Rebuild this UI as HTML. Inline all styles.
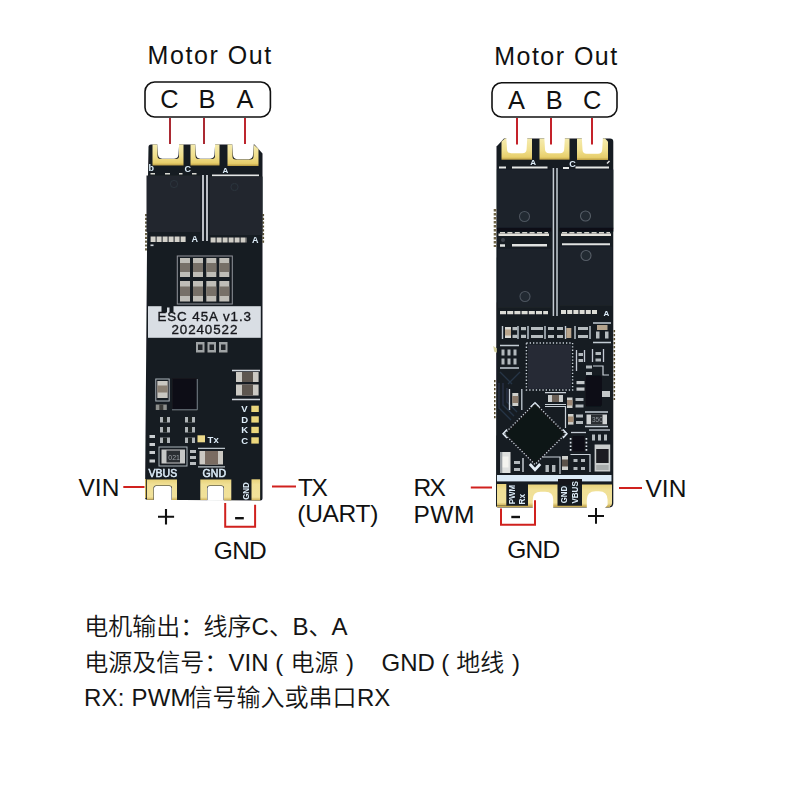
<!DOCTYPE html>
<html lang="zh">
<head>
<meta charset="utf-8">
<title>ESC 45A wiring</title>
<style>
html,body{margin:0;padding:0;background:#fff;}
body{width:800px;height:800px;overflow:hidden;position:relative;font-family:"Liberation Sans","Noto Sans CJK SC",sans-serif;}
svg{position:absolute;left:0;top:0;display:block}
text{font-family:"Liberation Sans","Noto Sans CJK SC",sans-serif;fill:#111;}
.lab{font-size:24.5px;}
.cn{font-size:24px;font-weight:350;fill:#151515;}
.red{stroke:#d0211e;stroke-width:2;fill:none}
.redv{stroke:#b3232b;stroke-width:2;fill:none}
.silk{fill:#dcecf8;font-weight:bold;}
</style>
</head>
<body>
<svg width="800" height="800" viewBox="0 0 800 800">
<defs>
<linearGradient id="gold" x1="0" y1="0" x2="0" y2="1">
<stop offset="0" stop-color="#f5ebae"/><stop offset="0.55" stop-color="#f0df8c"/><stop offset="0.88" stop-color="#e7ce6b"/><stop offset="1" stop-color="#b99b42"/>
</linearGradient>
<linearGradient id="goldb" x1="0" y1="0" x2="0" y2="1">
<stop offset="0" stop-color="#e8d27a"/><stop offset="0.25" stop-color="#f0e096"/><stop offset="0.85" stop-color="#f1e19a"/><stop offset="1" stop-color="#cdb057"/>
</linearGradient>
<filter id="soft" x="-5%" y="-5%" width="110%" height="110%"><feGaussianBlur stdDeviation="0.55"/></filter>
</defs>

<!-- ===== top labels ===== -->
<g id="toplabels">
<text x="147.6" y="63.9" class="lab" textLength="123.6" lengthAdjust="spacing" style="font-size:25px">Motor Out</text>
<text x="494.2" y="64.8" class="lab" textLength="123" lengthAdjust="spacing" style="font-size:25px">Motor Out</text>
<rect x="145" y="82" width="125.4" height="35" rx="9.6" ry="9.6" fill="#fff" stroke="#111" stroke-width="1.6"/>
<rect x="492" y="82.8" width="125" height="34.2" rx="9.6" ry="9.6" fill="#fff" stroke="#111" stroke-width="1.6"/>
<text x="160.3" y="108.2" class="lab" style="font-size:25.4px">C</text>
<text x="198.4" y="108.2" class="lab" style="font-size:25.4px">B</text>
<text x="236.5" y="108.2" class="lab" style="font-size:25.4px">A</text>
<text x="508" y="109.2" class="lab" style="font-size:25.4px">A</text>
<text x="545.8" y="109.2" class="lab" style="font-size:25.4px">B</text>
<text x="583" y="109.2" class="lab" style="font-size:25.4px">C</text>
</g>

<!-- BOARD1 START -->
<g id="board1" filter="url(#soft)">
<!-- pcb body -->
<path d="M151 144.5H254.5L262.5 153.5V498.5Q262.5 500.5 260.5 500.5L147 499.8Q145 499.8 145 497.8L147.3 215L148.5 147Q148.5 144.5 151 144.5Z" fill="#191d23"/>
<!-- castellation bumps left/right -->
<path d="M146 214v38M263.2 214v30" stroke="#5a5236" stroke-width="1.8" stroke-dasharray="2.2 1.6"/>
<!-- top gold pads -->
<path d="M152.5 144.5H157.5V156Q157.5 159 160.5 159H176Q179 159 179 156V144.5H183.5V165.5H152.5Z" fill="url(#gold)"/>
<path d="M190.5 144.5H195.5V156Q195.5 159 198.5 159H212Q215 159 215 156V144.5H219.5V165.5H190.5Z" fill="url(#gold)"/>
<path d="M227.5 144.5H232.5V156.5Q232.5 159.5 235.5 159.5H250.5Q253.5 159.5 253.5 156.5V144.5L258.5 149V166H227.5Z" fill="url(#gold)"/>
<!-- silk letters -->
<text x="148.6" y="171.3" class="silk" style="font-size:9px">b</text>
<text x="184.6" y="171.8" class="silk" style="font-size:9px">C</text>
<text x="222.6" y="172.6" class="silk" style="font-size:8px">A</text>
<!-- solder dashes above fets -->
<path d="M150.5 173.8h4.5M165 173.8h5M179 173.8h3.5M192 173.8h4.5" stroke="#d9d9d2" stroke-width="1.6"/>
<path d="M212 175.4H259" stroke="#e4e6e6" stroke-width="1.8"/>
<!-- fets -->
<rect x="146.5" y="175.5" width="54" height="56.5" fill="#20272f"/>
<rect x="209.5" y="176.5" width="53" height="58.5" fill="#20272f"/>
<circle cx="174" cy="184" r="3.6" fill="none" stroke="#2d343c" stroke-width="1"/>
<circle cx="234.5" cy="187" r="3.6" fill="none" stroke="#2d343c" stroke-width="1"/>
<!-- center white lines -->
<path d="M203 175V241M207 175V241" stroke="#d5dade" stroke-width="1.7"/>
<!-- solder under fets -->
<path d="M150.6 239.2H186" stroke="#d4d2cb" stroke-width="5.5" stroke-dasharray="5 1"/>
<path d="M210.6 240H247" stroke="#cfcdc6" stroke-width="5" stroke-dasharray="5 1"/>
<text x="191.5" y="242.3" class="silk" style="font-size:9px">A</text>
<text x="252" y="243" class="silk" style="font-size:9px">A</text>
<rect x="150.5" y="244.5" width="3" height="1.6" fill="#cfd6dc"/>
<!-- capacitor array -->
<rect x="177.3" y="256" width="55" height="48" fill="none" stroke="#8f959b" stroke-width="1"/>
<g id="caps8">
<g fill="#bfbdb7">
<rect x="180" y="258" width="10" height="19"/><rect x="193" y="258" width="10" height="19"/><rect x="206.3" y="258" width="10" height="19"/><rect x="219.3" y="258" width="10" height="19"/>
<rect x="180" y="281" width="10" height="20.5"/><rect x="193" y="281" width="10" height="20.5"/><rect x="206.3" y="281" width="10" height="20.5"/><rect x="219.3" y="281" width="10" height="20.5"/>
</g>
<g fill="#777067">
<rect x="180" y="263" width="10" height="9"/><rect x="193" y="263" width="10" height="9"/><rect x="206.3" y="263" width="10" height="9"/><rect x="219.3" y="263" width="10" height="9"/>
<rect x="180" y="286.5" width="10" height="9.5"/><rect x="193" y="286.5" width="10" height="9.5"/><rect x="206.3" y="286.5" width="10" height="9.5"/><rect x="219.3" y="286.5" width="10" height="9.5"/>
</g>
</g>
<!-- sticker -->
<rect x="148" y="306.2" width="112.8" height="31.6" fill="#d9dee4"/>
<path d="M161.5 303v9.5h5.5v-5h2.5v5h4v-8z" fill="#191d23"/>
<text x="157.4" y="320.6" textLength="93.6" lengthAdjust="spacing" style="font-size:13.4px;fill:#15171b;stroke:#15171b;stroke-width:0.35">ESC 45A v1.3</text>
<text x="171.4" y="334.4" textLength="66" lengthAdjust="spacing" style="font-size:13.4px;fill:#15171b;stroke:#15171b;stroke-width:0.35">20240522</text>
<!-- small resistors under sticker -->
<g fill="#9fa3a5"><rect x="196" y="342" width="8.5" height="10.5"/><rect x="207.5" y="342" width="8.5" height="10.5"/><rect x="219" y="342" width="8.5" height="10.5"/></g>
<g fill="#23272c"><rect x="198" y="344.5" width="4.5" height="5.5"/><rect x="209.5" y="344.5" width="4.5" height="5.5"/><rect x="221" y="344.5" width="4.5" height="5.5"/></g>
<!-- right caps -->
<path d="M232 370.5H260M232 399.5H260" stroke="#cfd6dc" stroke-width="1.4"/>
<g fill="#cbc9c3"><rect x="236" y="372" width="22.6" height="10"/><rect x="236" y="384.5" width="22.6" height="11"/></g>
<g fill="#5d564f"><rect x="242" y="372" width="11" height="10"/><rect x="242" y="384.5" width="11" height="11"/></g>
<!-- IC -->
<rect x="172.5" y="378.5" width="24" height="30.5" fill="#0e1114"/>
<path d="M197.3 379V409.8H172" stroke="#7f8a93" stroke-width="0.9" fill="none"/>
<!-- left cap -->
<rect x="155.8" y="379" width="13.4" height="22" fill="none" stroke="#aab3ba" stroke-width="1"/>
<rect x="157.3" y="381" width="10.4" height="17" fill="#c9c7c1"/><rect x="157.3" y="385.5" width="10.4" height="7" fill="#8a7f72"/>
<rect x="155.8" y="404.5" width="11" height="5.5" fill="#8d8f8c"/><rect x="159.3" y="404.5" width="4" height="5.5" fill="#3a3a38"/>
<!-- small resistors -->
<g fill="#aeb3b6">
<rect x="160" y="417" width="10" height="5.5"/><rect x="160" y="427" width="10" height="5.5"/><rect x="160" y="437.5" width="10" height="5.5"/>
<rect x="185" y="417" width="10" height="5.5"/><rect x="185" y="427" width="10" height="5.5"/><rect x="185" y="437.5" width="10" height="5.5"/>
</g>
<g fill="#1c2024">
<rect x="163" y="417" width="4" height="5.5"/><rect x="163" y="427" width="4" height="5.5"/><rect x="163" y="437.5" width="4" height="5.5"/>
<rect x="188" y="417" width="4" height="5.5"/><rect x="188" y="427" width="4" height="5.5"/><rect x="188" y="437.5" width="4" height="5.5"/>
</g>
<g fill="#c9cdd0"><rect x="149.5" y="435" width="5.5" height="3"/><rect x="149.5" y="443" width="5.5" height="3"/><rect x="149.5" y="451" width="5.5" height="3"/><rect x="149.5" y="459.5" width="5.5" height="3"/></g>
<!-- V D K C pads -->
<g style="font-size:9.5px"><text class="silk" x="241.2" y="412.2">V</text><text class="silk" x="241.2" y="422.8">D</text><text class="silk" x="241.2" y="433.3">K</text><text class="silk" x="241.2" y="443.8">C</text></g>
<g fill="#ebd67c"><rect x="251.3" y="405.7" width="7.5" height="6.3"/><rect x="251.3" y="416.3" width="7.5" height="6.3"/><rect x="251.3" y="426.8" width="7.5" height="6.3"/><rect x="251.3" y="437.3" width="7.5" height="6.3"/></g>
<!-- Tx pad -->
<rect x="197.5" y="435.3" width="7.5" height="7" fill="#ecd98a"/>
<text x="207.6" y="443" class="silk" style="font-size:9.5px">Tx</text>
<!-- resistor 021 -->
<rect x="159" y="447" width="28" height="19" fill="none" stroke="#aab3ba" stroke-width="1"/>
<rect x="161.5" y="449.5" width="23.5" height="14" fill="#c5c7c6"/><rect x="166.5" y="450.5" width="13.5" height="12" fill="#2a2d31"/>
<text x="168.3" y="459.8" style="font-size:7px;fill:#9aa0a5">021</text>
<!-- cap near GND -->
<path d="M198 448.3H225M198 466.8H225" stroke="#b9c2c9" stroke-width="1.2"/>
<rect x="199.5" y="451" width="23.5" height="13.5" fill="#cbc8c2"/><rect x="205" y="451" width="13" height="13.5" fill="#7a6c62"/>
<g fill="#b9bdc0"><rect x="190" y="450" width="6" height="3"/><rect x="190" y="456" width="6" height="3"/><rect x="190" y="462" width="6" height="3"/></g>
<!-- silk VBUS / GND -->
<text x="148.6" y="477.3" class="silk" textLength="28.6" lengthAdjust="spacingAndGlyphs" style="font-size:10.5px;font-weight:normal;stroke:#dcecf8;stroke-width:0.5">VBUS</text>
<text x="202.6" y="477.3" class="silk" textLength="23.4" lengthAdjust="spacingAndGlyphs" style="font-size:10.5px;font-weight:normal;stroke:#dcecf8;stroke-width:0.5">GND</text>
<text transform="translate(248.6 499.8) rotate(-90)" class="silk" textLength="17.6" lengthAdjust="spacingAndGlyphs" style="font-size:9.6px">GND</text>
<!-- bottom pads -->
<path d="M147 479.5H177V499.9H172V488Q172 485.5 169.5 485.5H156Q153.5 485.5 153.5 488V499.8H147Z" fill="url(#goldb)"/>
<path d="M200.3 479.5H231.3V500.2H224V488Q224 485.5 221.5 485.5H209.5Q207 485.5 207 488V500.1H200.3Z" fill="url(#goldb)"/>
<rect x="251.5" y="479.3" width="8.6" height="21" fill="url(#goldb)"/>
<path d="M145.6 479V498" stroke="#cdb45c" stroke-width="1.2"/>
</g>
<!-- notch holes painted white (outside filter for crispness) -->
<g fill="#fff"><path d="M157.3 143.5L158 154.6Q158.2 158.7 162.2 158.7H174.3Q178.3 158.7 178.5 154.6L179.2 143.5Z"/><path d="M195.3 143.5L196 154.6Q196.2 158.7 200.2 158.7H210.3Q214.3 158.7 214.5 154.6L215.2 143.5Z"/><path d="M232.3 143.5L233 155.1Q233.2 159.2 237.2 159.2H248.8Q252.8 159.2 253 155.1L253.7 143.5Z"/></g>
<g fill="#fff"><path d="M153.9 500.6V488.4Q153.9 486 156.3 486H169.2Q171.6 486 171.6 488.4V500.6Z"/><path d="M207.4 500.8V488.4Q207.4 486 209.8 486H221.2Q223.6 486 223.6 488.4V500.8Z"/></g>
<!-- BOARD1 END -->
<!-- BOARD2 START -->
<g id="board2" filter="url(#soft)">
<!-- pcb body -->
<path d="M504 138.5H610Q613.3 138.5 613.3 141.8V503Q613.3 507.5 608.8 507.5H498Q496 507.5 496 505.5L496.5 146.5Z" fill="#171c24"/>
<path d="M495 209v38" stroke="#6f6648" stroke-width="2.6" stroke-dasharray="2.4 1.6"/><path d="M494.8 380v40M614.3 330v70" stroke="#5a5032" stroke-width="1.6" stroke-dasharray="2.2 1.8"/>
<path d="M493.2 346l3.6 2.2v4.6l-2.6-1.2z" fill="#d8d3a0"/>
<!-- top gold pads -->
<path d="M501.5 141.5L505 138.5H532V159.7H501.5Z" fill="url(#gold)"/>
<rect x="539.5" y="138.5" width="30" height="21.2" fill="url(#gold)"/>
<path d="M577 138.5H605L608 141.5V160H577Z" fill="url(#gold)"/>
<!-- silk letters -->
<text x="530.3" y="165.3" class="silk" style="font-size:8px">A</text>
<text x="569.3" y="166.6" class="silk" style="font-size:9px">C</text>
<!-- solder lines above fets -->
<path d="M499 167.5h7M512 167.5H547.5M563 168h6M575.5 167.5H609" stroke="#e6e8e6" stroke-width="2.2"/>
<path d="M607 163.5l2.5-2.5" stroke="#e6e8e6" stroke-width="1.4"/>
<!-- fets row 1 -->
<rect x="497" y="169.5" width="54.3" height="59" fill="#1c222a"/>
<rect x="559.3" y="169.5" width="54" height="59" fill="#1c222a"/>
<circle cx="524.5" cy="216.5" r="5" fill="#222931" stroke="#4d555e" stroke-width="1.1"/>
<circle cx="585.5" cy="216" r="5" fill="#222931" stroke="#565e67" stroke-width="1.1"/>
<!-- solder between rows -->
<rect x="497" y="227.8" width="54.3" height="3.8" fill="#0e1115"/><rect x="559.3" y="227.8" width="54" height="3.8" fill="#0e1115"/><path d="M498.5 234.8H549" stroke="#e3e1da" stroke-width="2.6"/><path d="M500 232.8H548" stroke="#d5d3cc" stroke-width="1.6" stroke-dasharray="5 2.4"/>
<path d="M561 234.8H611" stroke="#e3e1da" stroke-width="2.6"/><path d="M562 232.8H610" stroke="#d5d3cc" stroke-width="1.6" stroke-dasharray="5 2.4"/>
<path d="M500 245.5h5M512 245.3H547" stroke="#e0e2e0" stroke-width="2.6"/>
<path d="M562 244.3H610" stroke="#e0e2e0" stroke-width="2"/>
<circle cx="503" cy="240" r="2" fill="#3a4048"/>
<!-- fets row 2 -->
<rect x="498" y="248.3" width="53" height="59.5" fill="#1c222a"/>
<rect x="559.7" y="246.3" width="52.6" height="59.5" fill="#1c222a"/>
<circle cx="525" cy="296.5" r="5" fill="#222931" stroke="#4d555e" stroke-width="1.1"/>
<circle cx="586" cy="255.5" r="5" fill="#222931" stroke="#565e67" stroke-width="1.1"/>
<!-- center double line -->
<path d="M553.4 168V316M557 168V316" stroke="#c3cbd2" stroke-width="1.5"/>
<!-- solder under row 2 -->
<path d="M500 312.6H548" stroke="#dcdcd6" stroke-width="3.4" stroke-dasharray="6 1.2"/>
<path d="M561 312H597" stroke="#dcdcd6" stroke-width="4" stroke-dasharray="5 1.2"/>
<text x="603.6" y="315.5" class="silk" style="font-size:8px">A</text>
<!-- passive row -->
<g id="prow">
<path d="M502.5 326V339M518 326V339M528 326V339M545 326V339M565.5 326V339M575 326V339M590 326V339" stroke="#c3ccd4" stroke-width="1.4"/>
<rect x="505" y="327" width="6" height="11" fill="#b9a58c"/>
<rect x="505" y="327" width="6" height="2.5" fill="#d9d9d4"/><rect x="505" y="335.5" width="6" height="2.5" fill="#d9d9d4"/>
<g fill="#b6bcbf">
<rect x="512.5" y="327" width="5" height="3.2"/><rect x="512.5" y="334.8" width="5" height="3.2"/>
<rect x="521" y="327" width="5" height="3.2"/><rect x="521" y="334.8" width="5" height="3.2"/>
<rect x="531" y="327" width="12" height="3"/><rect x="531" y="335" width="12" height="3"/>
<rect x="548" y="327" width="6" height="3"/><rect x="548" y="335" width="6" height="3"/>
<rect x="557" y="327" width="6" height="3"/><rect x="557" y="335" width="6" height="3"/>
<rect x="578" y="327" width="10" height="3"/><rect x="578" y="335" width="10" height="3"/>
</g>
<rect x="566.3" y="328" width="5" height="10" fill="#b9a58c"/>
<path d="M593 323H611M593 342.5H611" stroke="#c3ccd4" stroke-width="1.3"/>
<rect x="597" y="325" width="10.5" height="5" fill="#b5a48e"/>
<rect x="596" y="331.5" width="3.5" height="7" fill="#b6bcbf"/><rect x="605" y="331.5" width="3.5" height="7" fill="#b6bcbf"/>
</g>
<!-- QFN square ic -->
<rect x="526.4" y="343" width="46.2" height="47" fill="#171c24" stroke="#c9d1d8" stroke-width="1.4" stroke-dasharray="1.3 2"/>
<rect x="528" y="344.6" width="43" height="44.2" fill="#252c34"/>
<!-- left small group -->
<path d="M500 345.5H519M500 368H519" stroke="#c3ccd4" stroke-width="1.3"/>
<g fill="#b2b8bc"><rect x="501.5" y="349.5" width="3" height="6"/><rect x="507.5" y="349.5" width="3" height="6"/><rect x="513.5" y="349.5" width="3" height="6"/><rect x="501.5" y="358.5" width="3" height="6"/><rect x="507.5" y="358.5" width="3" height="6"/><rect x="513.5" y="358.5" width="3" height="6"/></g>
<!-- right small group -->
<path d="M576.5 350V371M584.5 350V362M592.5 349V362M603.5 349V362" stroke="#c3ccd4" stroke-width="1.3"/>
<g fill="#b2b8bc"><rect x="578.5" y="353" width="4.5" height="3"/><rect x="578.5" y="359" width="4.5" height="3"/><rect x="595.5" y="352" width="5.5" height="3"/><rect x="595.5" y="358.5" width="5.5" height="3"/><rect x="586" y="365.5" width="6" height="3"/><rect x="586" y="372" width="6" height="3"/></g>
<path d="M593 366H603V375H609" stroke="#c9d1d8" stroke-width="1.2" fill="none"/>
<!-- SOT black ic -->
<rect x="585.8" y="375.5" width="16" height="31" rx="1.5" fill="#0d0f12"/>
<g fill="#c3c7c9"><rect x="602" y="391" width="8" height="6"/><rect x="576.5" y="381" width="8" height="3.2"/><rect x="576.5" y="387.5" width="8" height="3.2"/></g>
<!-- left traces (diagonal) -->
<path d="M499 383V408L511 420M503 383V405L514 416M507 388V402L517 412M500 372L512 384M520 372L508 384" stroke="#263444" stroke-width="1.4" fill="none"/>
<!-- left cap vertical -->
<path d="M509.5 389V410M521.8 389V410" stroke="#c3ccd4" stroke-width="1.3"/>
<rect x="512.3" y="393" width="6" height="13" fill="#cfd0cc"/><rect x="512.3" y="396" width="6" height="7" fill="#8c7a6a"/>
<!-- small comps under QFN -->
<path d="M545 392.7H566M545 404.5H566" stroke="#c9d1d8" stroke-width="1.2"/>
<rect x="548" y="395" width="15" height="7" fill="#c9cccc"/><rect x="552" y="395" width="7" height="7" fill="#6b5f56"/>
<rect x="567" y="397.5" width="5.5" height="10.5" fill="#cfd0cc"/><rect x="567" y="400" width="5.5" height="5.5" fill="#9a8674"/>
<g fill="#b2b8bc"><rect x="575.5" y="398" width="8" height="3"/><rect x="575.5" y="404.5" width="8" height="3"/></g>
<path d="M545 406.5H565.5V428" stroke="#c9d1d8" stroke-width="1.2" fill="none"/>
<!-- resistor 350 -->
<path d="M585 412H608M585 426.5H608" stroke="#c3ccd4" stroke-width="1.3"/>
<rect x="586.5" y="414.5" width="20.5" height="9.8" fill="#cfd2d3"/><rect x="591" y="414.5" width="11.5" height="9.8" fill="#2a2d31"/>
<text x="592" y="422.3" style="font-size:6.5px;fill:#8f969c">350</text>
<rect x="568" y="414" width="5.5" height="10.6" fill="#cfd0cc"/><rect x="568" y="416.5" width="5.5" height="5.6" fill="#a28b74"/>
<g fill="#b2b8bc"><rect x="576" y="414.5" width="7" height="3"/><rect x="576" y="421" width="7" height="3"/></g>
<!-- diamond ic -->
<g transform="translate(535 433.8) rotate(45)">
<rect x="-21.7" y="-21.7" width="43.4" height="43.4" fill="#14171b" stroke="#cfd8df" stroke-width="1.3" stroke-dasharray="1.2 1.7"/>
<rect x="-20.4" y="-20.4" width="40.8" height="40.8" fill="#111418"/>
</g>
<path d="M530.6 407L535 402.6L539.4 407" stroke="#dbe6ee" stroke-width="1.2" fill="none"/><path d="M529.8 464L535 469.6L540.2 464" stroke="#e4eef6" stroke-width="2.8" fill="none"/>
<path d="M507 429.6L503 433.8L507 438M563 429.6L567 433.8L563 438" stroke="#e4eef6" stroke-width="1.4" fill="none"/>
<!-- small ic w/ dots -->
<path d="M571 432.5H586" stroke="#c3ccd4" stroke-width="1.3"/>
<rect x="572.5" y="436" width="12" height="15.5" fill="#0f1114"/>
<path d="M570.6 438V451M586.4 438V451" stroke="#dfe6ec" stroke-width="1.7" stroke-dasharray="1.7 2"/>
<path d="M589 430H610" stroke="#c3ccd4" stroke-width="1.3"/>
<g fill="#b2b8bc"><rect x="592" y="434.5" width="3" height="6"/><rect x="598" y="434.5" width="3" height="6"/><rect x="604" y="434.5" width="3" height="6"/></g>
<!-- inductor / big cap -->
<rect x="594.6" y="444.5" width="15.6" height="27" fill="#c9cccc"/>
<rect x="596.2" y="449" width="12.4" height="14" fill="#1a1d21"/>
<rect x="596.2" y="465" width="12.4" height="5" fill="#a8acac"/>
<!-- bottom smalls -->
<path d="M570.5 454.5H590V472" stroke="#c9d1d8" stroke-width="1.2" fill="none"/>
<g fill="#b2b8bc"><rect x="573.5" y="459" width="4" height="3"/><rect x="573.5" y="467" width="4" height="3"/><rect x="581" y="459" width="4" height="3"/><rect x="581" y="467" width="4" height="3"/></g>
<rect x="562" y="456" width="6" height="14" fill="#cfd0cc"/><rect x="562" y="459.5" width="6" height="7" fill="#5a5149"/>
<g fill="#b2b8bc"><rect x="545.5" y="465" width="3.4" height="7"/><rect x="552" y="465" width="3.4" height="7"/><rect x="514" y="461" width="6" height="3"/><rect x="514" y="468" width="6" height="3"/></g>
<path d="M543 457H560V474" stroke="#c9d1d8" stroke-width="1.2" fill="none"/>
<path d="M523 458V472" stroke="#dfe6ec" stroke-width="1.3"/>
<!-- LED -->
<rect x="500" y="452" width="10.5" height="21" fill="#dfe1df"/><rect x="502" y="456.5" width="6.5" height="11" fill="#f4f4ef"/><rect x="500" y="452" width="2.3" height="21" fill="#9aa0a4"/>
<!-- bottom silver strip -->
<rect x="497" y="475" width="114.5" height="6.4" fill="#dcebf7"/>
<rect x="558" y="479" width="24" height="6" fill="#14171b"/>
<!-- bottom pads -->
<rect x="497" y="484" width="9.3" height="21.6" fill="url(#goldb)"/>
<path d="M528 484.5H557.5V506H528Z" fill="url(#goldb)"/>
<path d="M582 484.5H612V503Q612 506.5 608.5 506.5H582Z" fill="url(#goldb)"/>
<path d="M497 506.5H610" stroke="#c8ad55" stroke-width="1.6"/>
<!-- silk rotated texts -->
<text transform="translate(515 504.3) rotate(-90)" class="silk" textLength="19.5" lengthAdjust="spacingAndGlyphs" style="font-size:8.8px">PWM</text>
<text transform="translate(524.8 504.5) rotate(-90)" class="silk" textLength="10.5" lengthAdjust="spacingAndGlyphs" style="font-size:8.6px">Rx</text>
<text transform="translate(566.8 503.3) rotate(-90)" class="silk" textLength="17.4" lengthAdjust="spacingAndGlyphs" style="font-size:9px">GND</text>
<text transform="translate(578.3 503.6) rotate(-90)" class="silk" textLength="22.4" lengthAdjust="spacingAndGlyphs" style="font-size:9px">VBUS</text>
</g>
<!-- white notches board2 -->
<g fill="#fff">
<path d="M506.3 137.5L507 149.2Q507.2 153.2 511.2 153.2H522.4Q526.4 153.2 526.6 149.2L527.3 137.5Z"/>
<path d="M544.3 137.5L545 149.2Q545.2 153.2 549.2 153.2H560Q564 153.2 564.2 149.2L564.9 137.5Z"/>
<path d="M581.8 137.5L582.5 149.7Q582.7 153.7 586.7 153.7H598Q602 153.7 602.2 149.7L602.9 137.5Z"/>
<path d="M532.8 509V499.5Q532.8 491.7 540.6 491.7H545.4Q553.2 491.7 553.2 499.5V509Z"/>
<path d="M586.8 509V500Q586.8 491.2 595.6 491.2H598.8Q607.6 491.2 607.6 500V505L604 509Z"/>
</g>
<!-- BOARD2 END -->

<g id="toplines">
<path class="redv" d="M170 118V144M204 118V144" style="stroke:#ab2a33"/><path class="redv" d="M245 118V144" style="stroke:#bd262e"/>
<path class="redv" d="M517 118V144.5M551 118V144.5M592 118V144.5" style="stroke:#c4222a"/>
</g>
<!-- ===== bottom labels ===== -->
<g id="botlabels">
<text x="78.5" y="495.8" class="lab">VIN</text>
<path class="red" d="M123.3 487H144.5"/>
<path class="red" d="M272 486.5H296"/>
<text x="298" y="495.8" class="lab" textLength="29.8" lengthAdjust="spacing">TX</text>
<text x="297.3" y="522" class="lab" textLength="81" lengthAdjust="spacing">(UART)</text>
<path d="M158 516.8H174.1M166 509V524.6" stroke="#111" stroke-width="2.1" fill="none"/>
<path class="red" d="M225.2 503V526.8H255.1V504.8"/>
<path d="M235.1 518.2H243.8" stroke="#111" stroke-width="2.4" fill="none"/>
<text x="213.8" y="559" class="lab" textLength="53" lengthAdjust="spacing">GND</text>

<text x="413.6" y="496.3" class="lab" textLength="32.2" lengthAdjust="spacing">RX</text>
<text x="413.4" y="522.5" class="lab" textLength="61" lengthAdjust="spacing">PWM</text>
<path class="red" d="M470.8 487.5H492"/>
<path class="red" d="M501 508.5V524.8H535V500.3"/>
<path d="M511.3 517H520" stroke="#111" stroke-width="2.4" fill="none"/>
<text x="507.2" y="557.7" class="lab" textLength="53" lengthAdjust="spacing">GND</text>
<path d="M588 516H604M596 508V523.8" stroke="#111" stroke-width="2" fill="none"/>
<path class="red" d="M619 488H642"/>
<text x="645.5" y="497" class="lab">VIN</text>
</g>

<!-- ===== description ===== -->
<g id="desc">
<text y="634.8" class="cn"><tspan x="84.3">电机输出：</tspan><tspan x="203.6">线序C、</tspan><tspan x="292.4">B、</tspan><tspan x="331.5">A</tspan></text>
<text y="671" class="cn"><tspan x="84.3">电源及信号：</tspan><tspan x="228.6">VIN</tspan><tspan x="275.3">(</tspan><tspan x="290.4">电源</tspan><tspan x="346">)</tspan><tspan x="381.6">GND</tspan><tspan x="441.3">(</tspan><tspan x="456.2">地线</tspan><tspan x="512">)</tspan></text>
<text y="706.4" class="cn"><tspan x="84" textLength="106.5" lengthAdjust="spacing">RX: PWM</tspan><tspan x="188.6">信号输入或串口</tspan><tspan x="357">RX</tspan></text>
</g>
</svg>
</body>
</html>
